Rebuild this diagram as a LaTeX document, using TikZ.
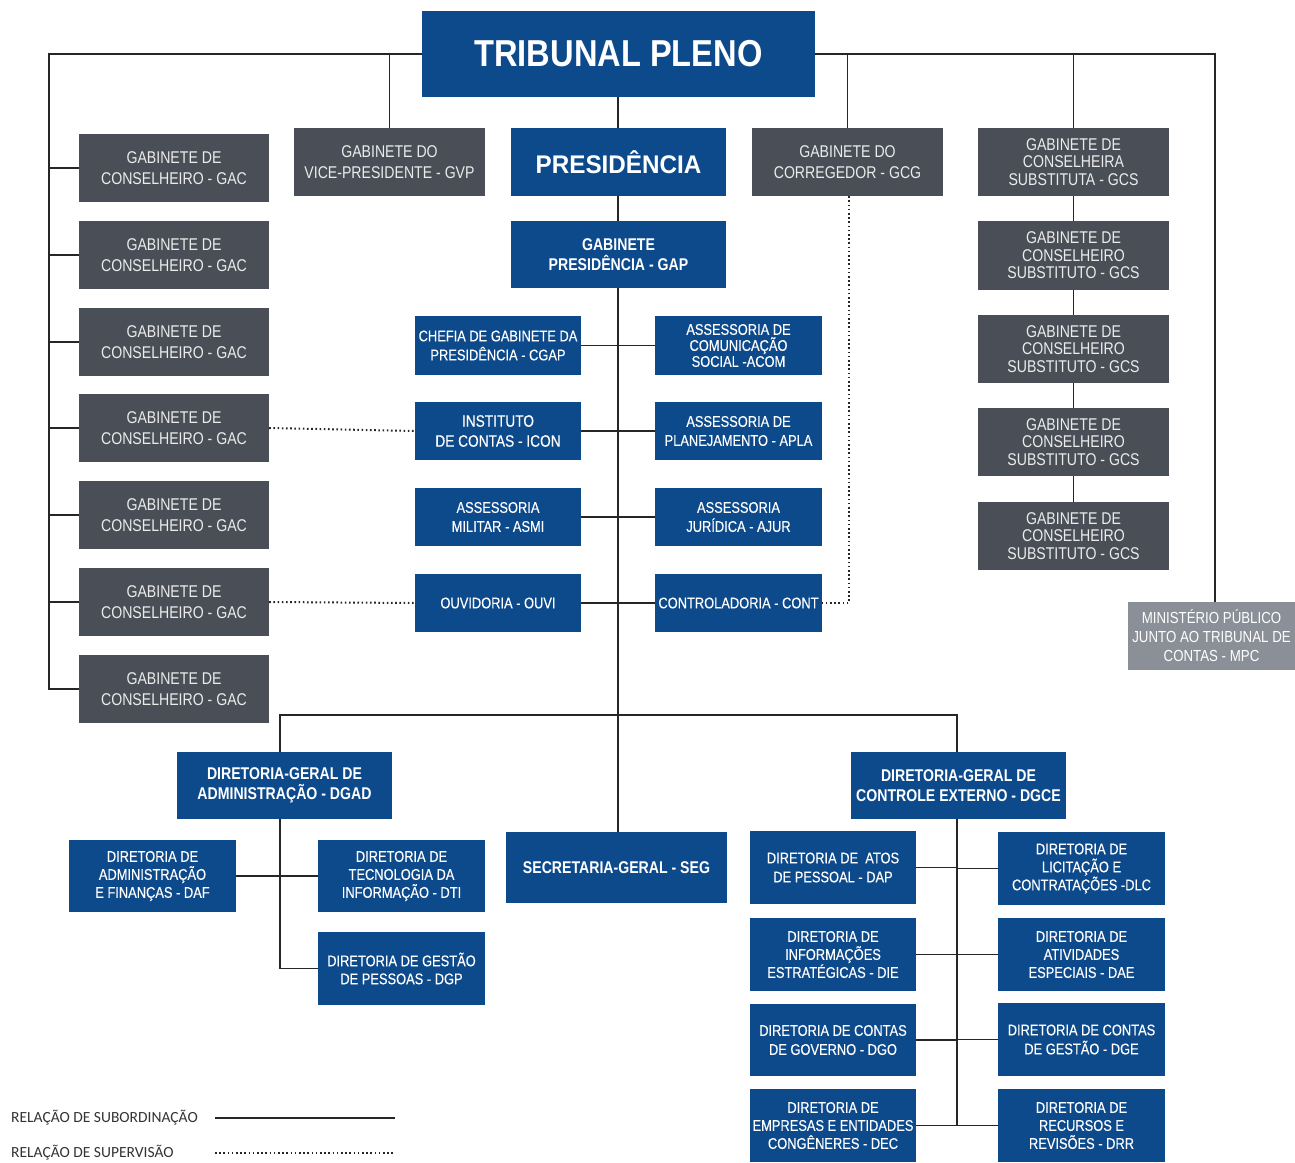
\documentclass[tikz,border=0pt]{standalone}
\usepackage{fontspec}
\setmainfont{Liberation Sans}[FakeStretch=0.83]
\newfontfamily\medfont{Liberation Sans}[FakeStretch=0.83, FakeBold=0.25]
\newfontfamily\tpfont{Liberation Sans}[FakeStretch=0.87]
\newfontfamily\presfont{Liberation Sans}[FakeStretch=0.95]
\newfontfamily\legfont{Carlito}
\definecolor{tblue}{HTML}{0D4A8C}
\definecolor{tgray}{HTML}{4A4F57}
\definecolor{tlgray}{HTML}{8A8F98}
\newcommand\bx[7]{\node[#2, minimum width={#5-#3}, minimum height={#6-#4}] (#1) at ({(#3+#5)/2},{(#4+#6)/2}) {#7};}
\begin{document}
\begin{tikzpicture}[x=1pt,y=-1pt,
  box/.style={rectangle, inner sep=0pt, text=white, align=center, font=\fontsize{16}{19}\selectfont},
  bluebox/.style={box, fill=tblue},
  graybox/.style={box, fill=tgray, text=white!92!black},
  mpcbox/.style={box, fill=tlgray},
  gac/.style={graybox, font=\fontsize{17}{21}\selectfont},
  gcs/.style={graybox, font=\fontsize{17}{17.5}\selectfont},
  mid/.style={bluebox, font=\medfont\fontsize{15.5}{19}\selectfont},
  low/.style={bluebox, font=\medfont\fontsize{15.5}{18}\selectfont},
  head/.style={bluebox, font=\fontsize{17}{20}\selectfont\bfseries},
  conn/.style={line width=1.8pt, black!85},
  sup/.style={line width=2pt, black!85, dash pattern=on 1.6pt off 2.6pt}]
\useasboundingbox (0,0) rectangle (1295,1162);
% top
\bx{TP}{bluebox, font=\tpfont\fontsize{37.5}{40}\selectfont\bfseries}{422}{11}{815}{97}{TRIBUNAL PLENO}
\bx{GVP}{gac}{294}{128}{485}{196}{GABINETE DO\\VICE-PRESIDENTE - GVP}
\bx{PRE}{bluebox, font=\presfont\fontsize{25.5}{28}\selectfont\bfseries}{511}{128}{726}{196}{PRESIDÊNCIA}
\bx{GCG}{gac}{752}{128}{943}{196}{GABINETE DO\\CORREGEDOR - GCG}
\bx{GAP}{head}{511}{221}{726}{288}{GABINETE\\PRESIDÊNCIA - GAP}
% GAC column
\bx{gaca}{gac}{79}{134}{269}{202}{GABINETE DE\\CONSELHEIRO - GAC}
\bx{gacb}{gac}{79}{221}{269}{289}{GABINETE DE\\CONSELHEIRO - GAC}
\bx{gacc}{gac}{79}{308}{269}{376}{GABINETE DE\\CONSELHEIRO - GAC}
\bx{gacd}{gac}{79}{394}{269}{462}{GABINETE DE\\CONSELHEIRO - GAC}
\bx{gace}{gac}{79}{481}{269}{549}{GABINETE DE\\CONSELHEIRO - GAC}
\bx{gacf}{gac}{79}{568}{269}{636}{GABINETE DE\\CONSELHEIRO - GAC}
\bx{gacg}{gac}{79}{655}{269}{723}{GABINETE DE\\CONSELHEIRO - GAC}
% GCS column
\bx{gcsa}{gcs}{978}{128}{1169}{196}{GABINETE DE\\CONSELHEIRA\\SUBSTITUTA - GCS}
\bx{gcsb}{gcs}{978}{221}{1169}{290}{GABINETE DE\\CONSELHEIRO\\SUBSTITUTO - GCS}
\bx{gcsc}{gcs}{978}{315}{1169}{383}{GABINETE DE\\CONSELHEIRO\\SUBSTITUTO - GCS}
\bx{gcsd}{gcs}{978}{408}{1169}{476}{GABINETE DE\\CONSELHEIRO\\SUBSTITUTO - GCS}
\bx{gcse}{gcs}{978}{502}{1169}{570}{GABINETE DE\\CONSELHEIRO\\SUBSTITUTO - GCS}
\bx{MPC}{mpcbox, font=\fontsize{16}{19}\selectfont}{1128}{602}{1295}{670}{MINISTÉRIO PÚBLICO\\JUNTO AO TRIBUNAL DE\\CONTAS - MPC}
% middle
\bx{CGAP}{mid}{415}{316}{581}{375}{CHEFIA DE GABINETE DA\\PRESIDÊNCIA - CGAP}
\bx{ICON}{mid, font=\medfont\fontsize{16.5}{20}\selectfont}{415}{402}{581}{460}{INSTITUTO\\DE CONTAS - ICON}
\bx{ASMI}{mid}{415}{488}{581}{546}{ASSESSORIA\\MILITAR - ASMI}
\bx{OUVI}{mid}{415}{574}{581}{632}{OUVIDORIA - OUVI}
\bx{ACOM}{mid, font=\medfont\fontsize{15.5}{16}\selectfont}{655}{316}{822}{375}{ASSESSORIA DE\\COMUNICAÇÃO\\SOCIAL -ACOM}
\bx{APLA}{mid}{655}{402}{822}{460}{ASSESSORIA DE\\PLANEJAMENTO - APLA}
\bx{AJUR}{mid}{655}{488}{822}{546}{ASSESSORIA\\JURÍDICA - AJUR}
\bx{CONT}{mid}{655}{574}{822}{632}{CONTROLADORIA - CONT}
% lower
\bx{DGAD}{head}{177}{752}{392}{819}{DIRETORIA-GERAL DE\\ADMINISTRAÇÃO - DGAD}
\bx{DGCE}{head}{851}{752}{1066}{819}{DIRETORIA-GERAL DE\\CONTROLE EXTERNO - DGCE}
\bx{SEG}{head}{506}{832}{727}{903}{SECRETARIA-GERAL - SEG}
\bx{DAF}{low}{69}{840}{236}{912}{DIRETORIA DE\\ADMINISTRAÇÃO\\E FINANÇAS - DAF}
\bx{DTI}{low}{318}{840}{485}{912}{DIRETORIA DE\\TECNOLOGIA DA\\INFORMAÇÃO - DTI}
\bx{DGP}{low}{318}{932}{485}{1005}{DIRETORIA DE GESTÃO\\DE PESSOAS - DGP}
\bx{DAP}{low, font=\medfont\fontsize{15.5}{19}\selectfont}{750}{831}{916}{904}{DIRETORIA DE\ \ ATOS\\DE PESSOAL - DAP}
\bx{DIE}{low}{750}{918}{916}{991}{DIRETORIA DE\\INFORMAÇÕES\\ESTRATÉGICAS - DIE}
\bx{DGO}{low, font=\medfont\fontsize{15.5}{19}\selectfont}{750}{1004}{916}{1076}{DIRETORIA DE CONTAS\\DE GOVERNO - DGO}
\bx{DEC}{low}{750}{1089}{916}{1162}{DIRETORIA DE\\EMPRESAS E ENTIDADES\\CONGÊNERES - DEC}
\bx{DLC}{low}{998}{832}{1165}{905}{DIRETORIA DE\\LICITAÇÃO E\\CONTRATAÇÕES -DLC}
\bx{DAE}{low}{998}{918}{1165}{991}{DIRETORIA DE\\ATIVIDADES\\ESPECIAIS - DAE}
\bx{DGE}{low, font=\medfont\fontsize{15.5}{19}\selectfont}{998}{1003}{1165}{1076}{DIRETORIA DE CONTAS\\DE GESTÃO - DGE}
\bx{DRR}{low}{998}{1089}{1165}{1162}{DIRETORIA DE\\RECURSOS E\\REVISÕES - DRR}
% coordinates
\coordinate (L) at (49,54);
\coordinate (R) at (1215,54);
\coordinate (C) at (618,300);
\coordinate (H) at (618,715);
\coordinate (DA) at (280,819);
\coordinate (DC) at (957,819);
\coordinate (S) at (849,603);
% connectors: top
\draw[conn] (TP.west) -- (L) -- (gacg.west -| L) -- (gacg.west);
\foreach \g in {gaca,gacb,gacc,gacd,gace,gacf} \draw[conn] (\g.west) -- (\g.west -| L);
\draw[conn] (TP.east) -- (R) -- (MPC.north -| R);
\draw[conn] (GVP.north) -- (GVP.north |- L);
\draw[conn] (GCG.north) -- (GCG.north |- L);
\draw[conn] (gcsa.north) -- (gcsa.north |- L);
\draw[conn] (gcsa) -- (gcsb) -- (gcsc) -- (gcsd) -- (gcse);
\draw[conn] (TP.south -| C) -- (PRE.north -| C);
\draw[conn] (PRE.south -| C) -- (GAP.north -| C);
\draw[conn] (GAP.south -| C) -- (SEG.north -| C);
\foreach \a/\b in {CGAP/ACOM,ICON/APLA,ASMI/AJUR,OUVI/CONT} {
  \draw[conn] (\a.east) -- (\a.east -| C);
  \draw[conn] (\b.west) -- (\b.west -| C);
}
\draw[conn] (DGAD.north -| DA) -- (H -| DA) -- (H -| DC) -- (DGCE.north -| DC);
% DGAD
\draw[conn] (DA) -- (DGP.west -| DA) -- (DGP.west);
\draw[conn] (DAF.east) -- (DAF.east -| DA);
\draw[conn] (DTI.west) -- (DTI.west -| DA);
% DGCE
\draw[conn] (DC) -- (DRR.west -| DC);
\foreach \a/\b in {DAP/DLC,DIE/DAE,DGO/DGE,DEC/DRR} {
  \draw[conn] (\a.east) -- (\a.east -| DC);
  \draw[conn] (\b.west) -- (\b.west -| DC);
}
% supervision
\draw[sup] (gacd.east) -- (ICON.west);
\draw[sup] (gacf.east) -- (OUVI.west);
\draw[sup] (GCG.south -| S) -- (S) -- (CONT.east);
% legend
\node[anchor=west, inner sep=0pt, font=\legfont\fontsize{15.5}{18}\selectfont, text=black!80] (l1) at (11,1118) {RELAÇÃO DE SUBORDINAÇÃO};
\node[anchor=west, inner sep=0pt, font=\legfont\fontsize{15.5}{18}\selectfont, text=black!80] (l2) at (11,1153) {RELAÇÃO DE SUPERVISÃO};
\coordinate (la) at (215,1118); \coordinate (lb) at (395,1118);
\coordinate (lc) at (215,1153); \coordinate (ld) at (395,1153);
\draw[conn] (la) -- (lb);
\draw[sup] (lc) -- (ld);
\end{tikzpicture}
\end{document}
